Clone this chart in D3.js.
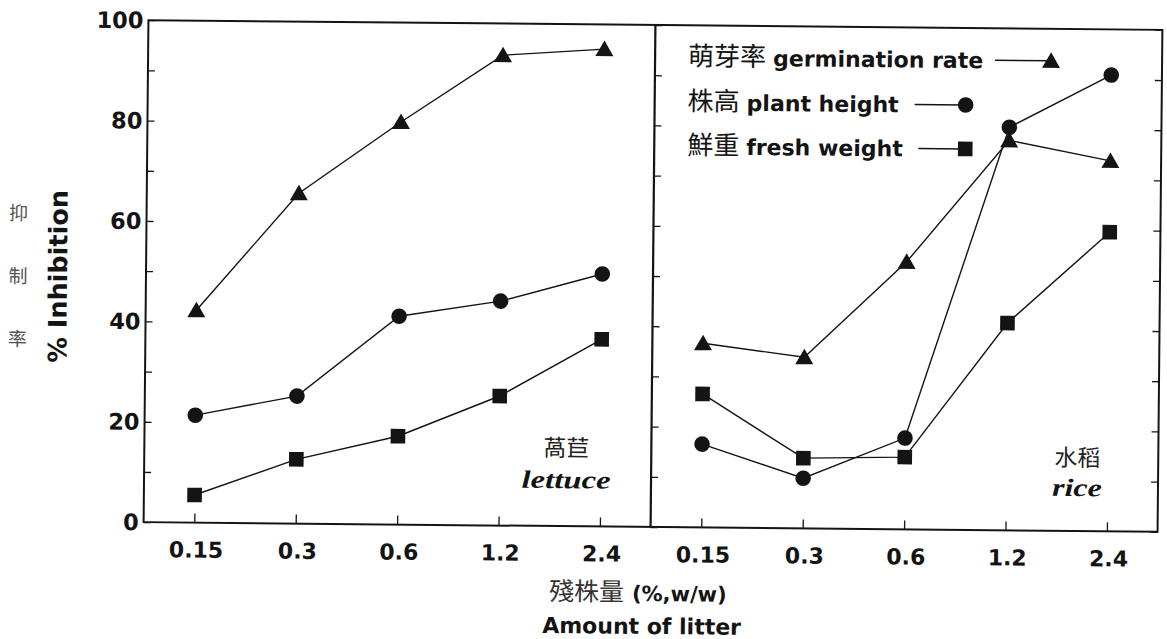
<!DOCTYPE html>
<html>
<head>
<meta charset="utf-8">
<script src="https://cdn.jsdelivr.net/npm/d3@7"></script>
<style>
  html, body { margin: 0; padding: 0; background: #fff; }
  svg { display: block; }
</style>
</head>
<body>
<div class="chart-container"></div>
<script>
// values (% inhibition)
const doses = ["0.15", "0.3", "0.6", "1.2", "2.4"];
const yTicks = [0, 20, 40, 60, 80, 100];
const minorTicks = [10, 30, 50, 70, 90];

const lettuceGermination = [42.3, 65.8, 80.2, 93.7, 95.1];
const lettuceHeight = [21.4, 25.4, 41.5, 44.7, 50.3];
const lettuceFresh = [5.5, 12.8, 17.6, 25.8, 37.3];

const riceGermination = [36.7, 34.1, 53.3, 77.7, 73.8];
const riceHeight = [16.6, 10.0, 18.2, 80.3, 90.9];
const riceFresh = [26.6, 14.0, 14.4, 41.3, 59.6];

const seriesNames = [
  { zh: "萌芽率", en: "germination rate", shape: "triangle" },
  { zh: "株高", en: "plant height", shape: "circle" },
  { zh: "鮮重", en: "fresh weight", shape: "square" }
];

const width = 1167, height = 639;
const frame = { left: 146, mid: 653, right: 1160, top: 25, bottom: 527 };
const sans = "'DejaVu Sans', 'Liberation Sans', Arial, sans-serif";
const cjk = "'Noto Sans CJK TC', 'Noto Sans CJK SC', sans-serif";
const ink = "#141414";

let svg = d3.select(".chart-container")
  .append("svg")
  .attr("width", width)
  .attr("height", height);

// the scan is tilted a little clockwise
let g = svg.append("g")
  .attr("transform", "rotate(0.55,653,276)");

let y = d3.scaleLinear().domain([0, 100]).range([frame.bottom, frame.top]);
let xLeft = d3.scalePoint().domain(doses).range([frame.left, frame.mid]).padding(0.5);
let xRight = d3.scalePoint().domain(doses).range([frame.mid, frame.right]).padding(0.5);

// markers
function drawMarker(sel, shape, cx, cy) {
  if (shape === "circle") {
    sel.append("circle").attr("cx", cx).attr("cy", cy).attr("r", 7.8).attr("fill", ink);
  } else if (shape === "square") {
    sel.append("rect").attr("x", cx - 7.3).attr("y", cy - 7.3)
      .attr("width", 14.6).attr("height", 14.6).attr("fill", ink);
  } else {
    sel.append("path")
      .attr("d", "M" + cx + "," + (cy - 8.5) + "L" + (cx + 9) + "," + (cy + 7) + "L" + (cx - 9) + "," + (cy + 7) + "Z")
      .attr("fill", ink);
  }
}

// frame
g.append("rect")
  .attr("x", frame.left).attr("y", frame.top)
  .attr("width", frame.right - frame.left).attr("height", frame.bottom - frame.top)
  .attr("fill", "none").attr("stroke", ink).attr("stroke-width", 2);
g.append("line")
  .attr("x1", frame.mid).attr("x2", frame.mid)
  .attr("y1", frame.top).attr("y2", frame.bottom)
  .attr("stroke", ink).attr("stroke-width", 2.2);

// left y axis (inner ticks) with labels
let yAxis = g.append("g").attr("class", "y-axis")
  .attr("transform", "translate(" + frame.left + ",0)")
  .call(d3.axisRight(y).tickValues(yTicks.concat(minorTicks)).tickSize(7).tickFormat(""));
yAxis.select(".domain").remove();
yAxis.selectAll(".tick line").attr("stroke", ink).attr("stroke-width", 1.3);

g.append("g").selectAll("text")
  .data(yTicks)
  .enter()
  .append("text")
  .attr("x", frame.left - 5)
  .attr("y", d => y(d))
  .attr("dy", "0.36em")
  .attr("text-anchor", "end")
  .style("font-family", sans).style("font-weight", "bold").style("font-size", "22.5px")
  .attr("fill", ink)
  .text(d => d);

// ticks on the divider and right border
[frame.mid, frame.right].forEach(function (xp, i) {
  let ax = g.append("g")
    .attr("transform", "translate(" + xp + ",0)")
    .call((i === 0 ? d3.axisRight(y) : d3.axisLeft(y))
      .tickValues(yTicks.concat(minorTicks)).tickSize(7).tickFormat(""));
  ax.select(".domain").remove();
  ax.selectAll(".tick line").attr("stroke", ink).attr("stroke-width", 1.3);
});

// x axes
[xLeft, xRight].forEach(function (xs) {
  let ax = g.append("g")
    .attr("transform", "translate(0," + frame.bottom + ")")
    .call(d3.axisTop(xs).tickSize(9).tickFormat(""));
  ax.select(".domain").remove();
  ax.selectAll(".tick line").attr("stroke", ink).attr("stroke-width", 1.3);

  g.append("g").selectAll("text")
    .data(doses)
    .enter()
    .append("text")
    .attr("x", d => xs(d) + 2)
    .attr("y", frame.bottom + 35)
    .attr("text-anchor", "middle")
    .style("font-family", sans).style("font-weight", "bold").style("font-size", "22px")
    .attr("fill", ink)
    .text(d => d);
});

// series
let panels = [
  { xs: xLeft, data: [lettuceGermination, lettuceHeight, lettuceFresh] },
  { xs: xRight, data: [riceGermination, riceHeight, riceFresh] }
];
let line = d3.line();
panels.forEach(function (p) {
  p.data.forEach(function (vals, si) {
    let pts = vals.map((v, i) => [p.xs(doses[i]), y(v)]);
    g.append("path")
      .attr("d", line(pts))
      .attr("fill", "none")
      .attr("stroke", ink)
      .attr("stroke-width", 1.4);
    let mg = g.append("g");
    pts.forEach(pt => drawMarker(mg, seriesNames[si].shape, pt[0], pt[1]));
  });
});

// legend
let legendRows = [57, 102, 146];
let legendLineX = [993, 913, 917];
let legendMarkerX = [1049, 964, 964];
seriesNames.forEach(function (s, i) {
  let t = g.append("text")
    .attr("x", 686)
    .attr("y", legendRows[i] + 8)
    .attr("fill", ink);
  t.append("tspan")
    .style("font-family", cjk).style("font-size", "26px")
    .text(s.zh);
  t.append("tspan")
    .attr("dx", 7)
    .style("font-family", sans).style("font-weight", "bold").style("font-size", "22px")
    .text(s.en);
  g.append("line")
    .attr("x1", legendLineX[i]).attr("x2", legendMarkerX[i])
    .attr("y1", legendRows[i]).attr("y2", legendRows[i])
    .attr("stroke", ink).attr("stroke-width", 1.4);
  drawMarker(g, s.shape, legendMarkerX[i], legendRows[i]);
});

// panel labels
function panelLabel(cx, zh, en, zhY, enY, enLen) {
  g.append("text")
    .attr("x", cx).attr("y", zhY)
    .attr("text-anchor", "middle")
    .style("font-family", cjk).style("font-size", "23px")
    .attr("fill", "#222")
    .text(zh);
  g.append("text")
    .attr("x", cx).attr("y", enY)
    .attr("text-anchor", "middle")
    .attr("textLength", enLen).attr("lengthAdjust", "spacingAndGlyphs")
    .style("font-family", "'Liberation Serif', 'DejaVu Serif', serif")
    .style("font-weight", "bold").style("font-style", "italic").style("font-size", "25px")
    .attr("fill", ink)
    .text(en);
}
panelLabel(568, "萵苣", "lettuce", 457, 489, 89);
panelLabel(1079, "水稻", "rice", 462, 492, 50);

// y title
g.append("text")
  .attr("transform", "translate(67,282) rotate(-90)")
  .attr("text-anchor", "middle")
  .style("font-family", sans).style("font-weight", "bold").style("font-size", "25.5px")
  .attr("fill", ink)
  .text("% Inhibition");

g.append("g").selectAll("text")
  .data(["抑", "制", "率"])
  .enter()
  .append("text")
  .attr("x", 18)
  .attr("y", (d, i) => 226 + i * 63)
  .attr("text-anchor", "middle")
  .style("font-family", cjk).style("font-size", "19px")
  .attr("fill", "#555")
  .text(d => d);

// x title
let xt = g.append("text")
  .attr("x", 552).attr("y", 601)
  .attr("fill", ink);
xt.append("tspan")
  .style("font-family", cjk).style("font-size", "25px").attr("fill", "#333")
  .text("殘株量");
xt.append("tspan")
  .attr("dx", 8)
  .style("font-family", sans).style("font-weight", "bold").style("font-size", "21px")
  .text("(%,w/w)");

g.append("text")
  .attr("x", 645).attr("y", 634)
  .attr("text-anchor", "middle")
  .style("font-family", sans).style("font-weight", "bold").style("font-size", "22px")
  .attr("fill", ink)
  .text("Amount of litter");
</script>
</body>
</html>
